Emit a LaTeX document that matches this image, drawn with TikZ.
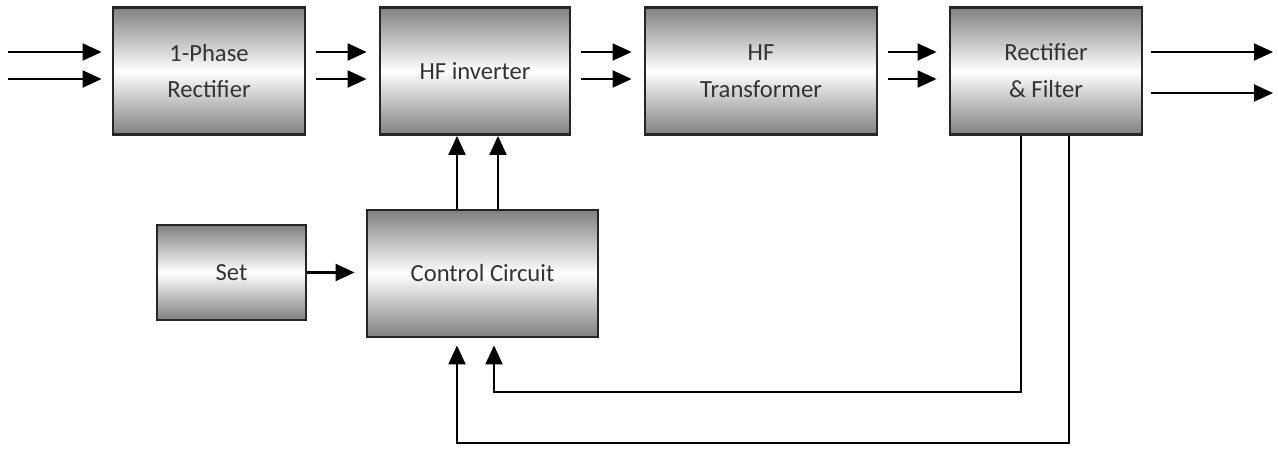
\documentclass[tikz,border=0pt]{standalone}
\usepackage{fontspec}
\setmainfont{Carlito}
\usetikzlibrary{arrows.meta}

\tikzset{
    block/.style={draw=black!85, line width=1.6pt, top color=black!50, bottom color=black!50,
        middle color=white, minimum height=2.54cm, align=center, text=black!80,
        font=\fontsize{14}{21}\selectfont},
    arr/.style={line width=1.2pt, -{Triangle[length=0.38cm, width=0.34cm]}}
}

\begin{document}
\begin{tikzpicture}
    \useasboundingbox (0, 0) rectangle (25.56, -9.0);

    % Blocks (1 px of the sketch = 0.02 cm)
    \node[block, minimum width=3.84cm] (rect) at (4.18, -1.42) {1-Phase\\Rectifier};
    \node[block, minimum width=3.8cm] (inv) at (9.5, -1.42) {HF inverter};
    \node[block, minimum width=4.64cm] (trf) at (15.22, -1.42) {HF\\Transformer};
    \node[block, minimum width=3.84cm] (rf) at (20.92, -1.42) {Rectifier\\\& Filter};
    \node[block, minimum width=2.98cm, minimum height=1.9cm] (set) at (4.63, -5.45) {Set};
    \node[block, minimum width=4.62cm] (ctrl) at (9.65, -5.47) {Control Circuit};

    % Free ends of input and output lines
    \coordinate (in) at (0.16, -1.42);
    \coordinate (out) at (25.46, -1.42);

    % Input pair
    \foreach \dy in {0.38, -0.16} {
        \draw[arr, shorten >=0.2cm] ([yshift=\dy cm]in) -- ([yshift=\dy cm]in -| rect.west);
    }

    % Pairs between the main blocks
    \foreach \a/\b in {rect/inv, inv/trf, trf/rf} {
        \foreach \dy in {0.38, -0.16} {
            \draw[arr, shorten <=0.2cm, shorten >=0.24cm] ([yshift=\dy cm]\a.east) -- ([yshift=\dy cm]\b.west);
        }
    }

    % Output pair
    \foreach \dy in {0.38, -0.44} {
        \draw[arr, shorten <=0.16cm] ([yshift=\dy cm]rf.east) -- ([yshift=\dy cm]out);
    }

    % Control signals to the inverter
    \foreach \dx in {-0.51, 0.31} {
        \draw[arr] ([xshift=\dx cm]ctrl.north) -- ([xshift=\dx cm]ctrl.north |- inv.south);
    }

    % Set point
    \draw[arr, shorten >=0.22cm] (set.east) -- (set.east -| ctrl.west);

    % Feedback from the output
    \coordinate (fb1) at ([xshift=0.23cm]ctrl.south |- 0, -7.84);
    \coordinate (fb2) at ([xshift=-0.51cm]ctrl.south |- 0, -8.86);
    \draw[arr, shorten >=0.14cm] ([xshift=-0.5cm]rf.south) |- (fb1) -- ([xshift=0.23cm]ctrl.south);
    \draw[arr, shorten >=0.14cm] ([xshift=0.46cm]rf.south) |- (fb2) -- ([xshift=-0.51cm]ctrl.south);
\end{tikzpicture}
\end{document}
